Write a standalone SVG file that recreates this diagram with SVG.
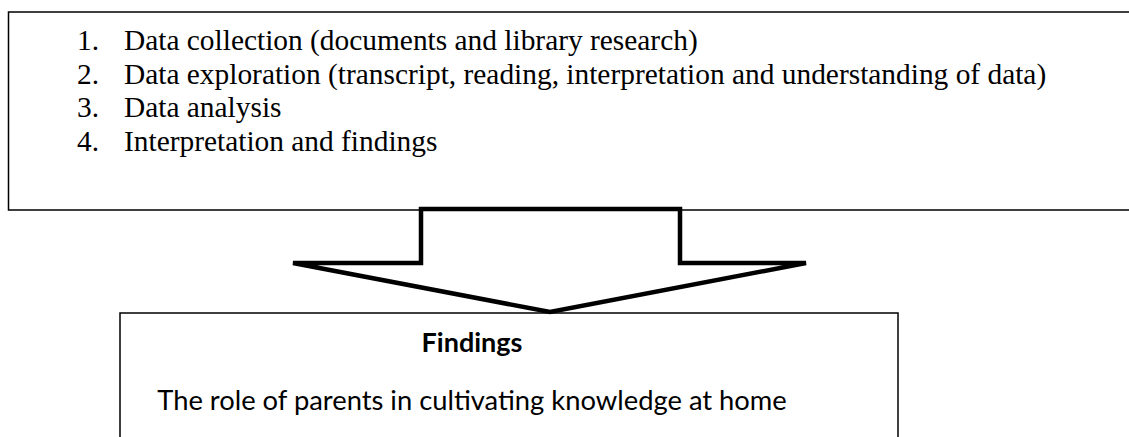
<svg xmlns="http://www.w3.org/2000/svg" width="1129" height="437" viewBox="0 0 1129 437">
<style>
.box{fill:#fff;stroke:#000;stroke-width:1.5}
.serif{font-family:"Liberation Serif","Times New Roman",serif;font-size:29.4px;fill:#000}
.sans{font-family:Lato,"Open Sans","Liberation Sans",sans-serif;font-size:27px;fill:#000}
</style>
<g id="steps">
<rect class="box" x="8.5" y="12" width="1130" height="198"/>
<text class="serif" x="77" y="50">1.</text><text class="serif" x="124" y="50">Data collection (documents and library research)</text>
<text class="serif" x="77" y="83.5">2.</text><text class="serif" x="124" y="83.5">Data exploration (transcript, reading, interpretation and understanding of data)</text>
<text class="serif" x="77" y="117">3.</text><text class="serif" x="124" y="117">Data analysis</text>
<text class="serif" x="77" y="150.5">4.</text><text class="serif" x="124" y="150.5">Interpretation and findings</text>
</g>
<g id="findings">
<rect class="box" x="120" y="313" width="778" height="140"/>
<text class="sans" x="472" y="352" text-anchor="middle" font-weight="bold">Findings</text>
<text class="sans" x="472" y="410" text-anchor="middle" style="font-size:27.35px">The role of parents in cultivating knowledge at home</text>
</g>
<g id="connectors">
<polygon points="421,209 680,209 680,263 806,263 550,312 293,263 421,263" fill="#fff" stroke="#000" stroke-width="4.5" stroke-linejoin="miter"/>
</g>
</svg>
